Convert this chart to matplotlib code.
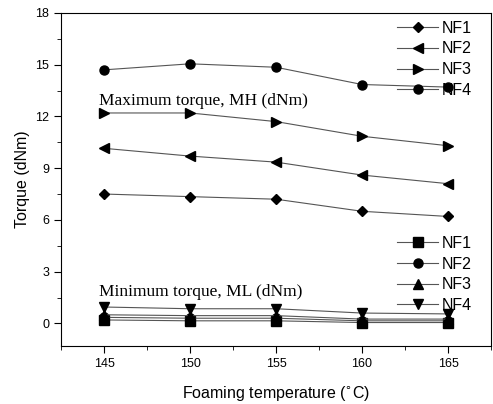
import matplotlib.pyplot as plt
from matplotlib.ticker import MultipleLocator

plt.rcParams['font.family'] = ['Liberation Sans', 'DejaVu Sans']

temps = [145, 150, 155, 160, 165]

# maximum torque MH (dNm)
mh_nf1 = [7.5, 7.35, 7.2, 6.5, 6.2]
mh_nf2 = [10.15, 9.7, 9.35, 8.6, 8.1]
mh_nf3 = [12.2, 12.2, 11.7, 10.85, 10.3]
mh_nf4 = [14.7, 15.05, 14.85, 13.85, 13.7]

# minimum torque ML (dNm)
ml_nf1 = [0.2, 0.15, 0.15, 0.05, 0.05]
ml_nf2 = [0.35, 0.3, 0.3, 0.15, 0.15]
ml_nf3 = [0.5, 0.45, 0.45, 0.25, 0.25]
ml_nf4 = [0.95, 0.85, 0.85, 0.6, 0.55]

labels = ["NF1", "NF2", "NF3", "NF4"]

fig = plt.figure(figsize=(4.93, 4.04), dpi=100)
ax = fig.add_axes([0.124, 0.144, 0.872, 0.824])

lc = "#555555"
mh_markers = ["D", "<", ">", "o"]
ml_markers = ["s", "o", "^", "v"]

h1 = []
for ys, m, lab in zip([mh_nf1, mh_nf2, mh_nf3, mh_nf4], mh_markers, labels):
    ms = 5 if m == "D" else 6.5
    l, = ax.plot(temps, ys, color=lc, lw=0.8, marker=m, ms=ms,
                 mfc="black", mec="black", label=lab)
    h1.append(l)

h2 = []
for ys, m, lab in zip([ml_nf1, ml_nf2, ml_nf3, ml_nf4], ml_markers, labels):
    l, = ax.plot(temps, ys, color=lc, lw=0.8, marker=m, ms=6.5,
                 mfc="black", mec="black", label=lab)
    h2.append(l)

leg1 = ax.legend(handles=h1, loc="upper right", bbox_to_anchor=(0.985, 1.015),
                 frameon=False, fontsize=11.5, handlelength=2.6,
                 handletextpad=0.2, labelspacing=0.36, borderpad=0.3)
ax.add_artist(leg1)
ax.legend(handles=h2, loc="lower right", bbox_to_anchor=(0.985, 0.06),
          frameon=False, fontsize=11.5, handlelength=2.6,
          handletextpad=0.2, labelspacing=0.36, borderpad=0.3)

ax.text(144.7, 12.9, "Maximum torque, MH (dNm)", family="Liberation Serif",
        fontsize=12.5, va="center", ha="left")
ax.text(144.7, 1.8, "Minimum torque, ML (dNm)", family="Liberation Serif",
        fontsize=12.5, va="center", ha="left")

ax.set_xlim(142.5, 167.5)
ax.set_ylim(-1.3, 18)
ax.xaxis.set_major_locator(MultipleLocator(5))
ax.xaxis.set_minor_locator(MultipleLocator(2.5))
ax.yaxis.set_major_locator(MultipleLocator(3))
ax.yaxis.set_minor_locator(MultipleLocator(1.5))
ax.tick_params(which="major", length=5, labelsize=9)
ax.tick_params(which="minor", length=3)
ax.set_xlabel("Foaming temperature ($^{\\circ}$C)", fontsize=11.5, labelpad=10)
ax.set_ylabel("Torque (dNm)", fontsize=11.5)

fig.savefig("out.png", dpi=100)
